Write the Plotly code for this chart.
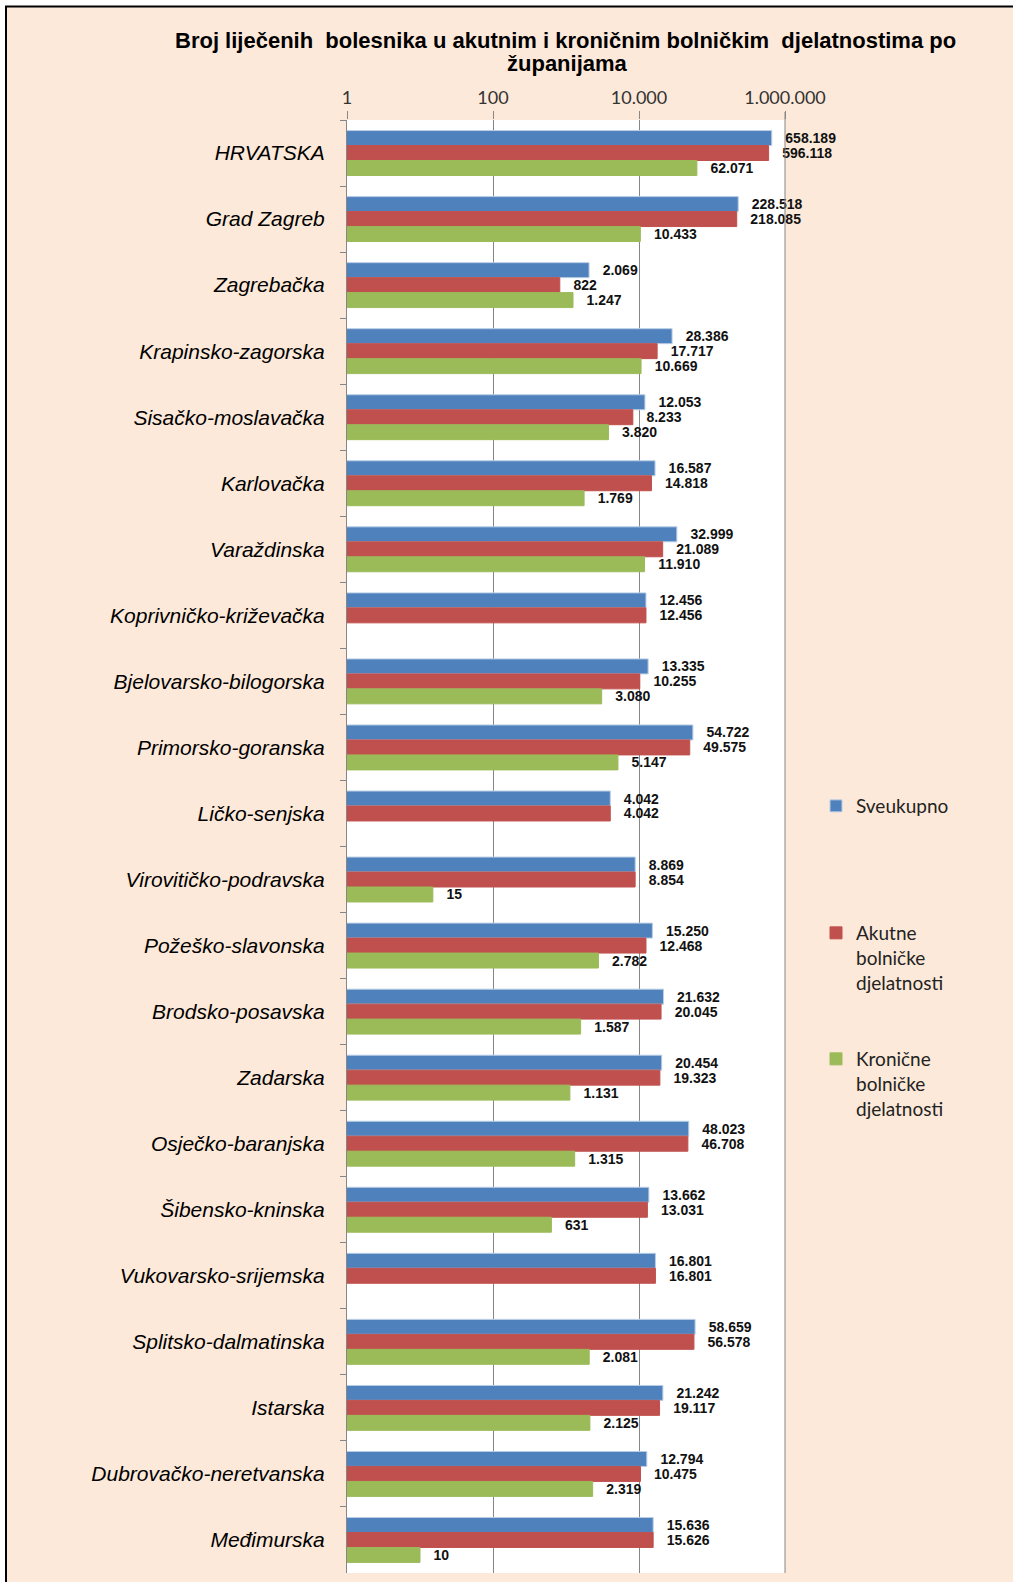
import plotly.graph_objects as go

categories = ["HRVATSKA", "Grad Zagreb", "Zagrebačka", "Krapinsko-zagorska", "Sisačko-moslavačka",
              "Karlovačka", "Varaždinska", "Koprivničko-križevačka", "Bjelovarsko-bilogorska",
              "Primorsko-goranska", "Ličko-senjska", "Virovitičko-podravska", "Požeško-slavonska",
              "Brodsko-posavska", "Zadarska", "Osječko-baranjska", "Šibensko-kninska",
              "Vukovarsko-srijemska", "Splitsko-dalmatinska", "Istarska", "Dubrovačko-neretvanska",
              "Međimurska"]

sveukupno = [658189, 228518, 2069, 28386, 12053, 16587, 32999, 12456, 13335, 54722, 4042,
             8869, 15250, 21632, 20454, 48023, 13662, 16801, 58659, 21242, 12794, 15636]
akutne = [596118, 218085, 822, 17717, 8233, 14818, 21089, 12456, 10255, 49575, 4042,
          8854, 12468, 20045, 19323, 46708, 13031, 16801, 56578, 19117, 10475, 15626]
kronicne = [62071, 10433, 1247, 10669, 3820, 1769, 11910, None, 3080, 5147, None,
            15, 2782, 1587, 1131, 1315, 631, None, 2081, 2125, 2319, 10]

series_names = ["Sveukupno", "Akutne<br>bolničke<br>djelatnosti", "Kronične<br>bolničke<br>djelatnosti"]
tick_vals = [1, 100, 10000, 1000000]
tick_text = ["1", "100", "10.000", "1.000.000"]
title_lines = ["Broj liječenih  bolesnika u akutnim i kroničnim bolničkim  djelatnostima po", "županijama"]

colors = ["#4F81BD", "#C0504D", "#9BBB59"]
outlines = ["#B9CDE5", "#C0504D", "#9BBB59"]

W, H = 1013, 1582
PL, PR, PT, PB = 347, 785, 120, 1573


def px_x(p):
    return (p - PL) / (PR - PL)


def px_y(p):
    return (PB - p) / (PB - PT)


fig = go.Figure()
legends = ["legend", "legend2", "legend3"]
for name, vals, col, oc, lg in zip(series_names, [sveukupno, akutne, kronicne], colors, outlines, legends):
    fig.add_trace(go.Bar(
        y=categories, x=vals, name=name, orientation="h",
        marker=dict(color=col, line=dict(color=oc, width=1)),
        texttemplate="\u00a0\u00a0\u2009%{x:,d}", textposition="outside",
        textfont=dict(family="Liberation Sans, Arial", size=14, color="#111111", weight="bold"),
        constraintext="none", cliponaxis=False, legend=lg, showlegend=True,
    ))

shapes = [
    dict(type="rect", xref="paper", yref="paper", x0=px_x(6), x1=px_x(W + 20),
         y0=px_y(H + 20), y1=px_y(6.5), fillcolor="#FDE9D9",
         line=dict(color="black", width=2), layer="below"),
    dict(type="rect", xref="paper", yref="paper", x0=0, x1=1, y0=0, y1=1,
         fillcolor="white", line=dict(width=0), layer="below"),
    dict(type="line", xref="paper", yref="paper", x0=1, x1=1, y0=0, y1=px_y(112),
         line=dict(color="#868686", width=1), layer="above"),
]

annotations = [
    dict(text=title_lines[0], xref="paper", yref="paper", x=px_x(565), y=px_y(41),
         xanchor="center", yanchor="middle", showarrow=False,
         font=dict(family="Liberation Sans, Arial", size=22, color="black", weight="bold")),
    dict(text=title_lines[1], xref="paper", yref="paper", x=px_x(567), y=px_y(64),
         xanchor="center", yanchor="middle", showarrow=False,
         font=dict(family="Liberation Sans, Arial", size=22, color="black", weight="bold")),
]

legend_common = dict(font=dict(family="Lato", size=19, color="#222222"), bgcolor="rgba(0,0,0,0)",
                     xanchor="left", yanchor="top", valign="top", borderwidth=0)

fig.update_layout(
    width=W, height=H,
    margin=dict(l=PL, r=W - PR, t=PT, b=H - PB, pad=0),
    paper_bgcolor="white", plot_bgcolor="white",
    separators=",.",
    showlegend=True,
    barmode="group", bargap=0.32, bargroupgap=0,
    shapes=shapes, annotations=annotations,
    xaxis=dict(type="log", range=[0, 6], side="top", tickvals=tick_vals, ticktext=tick_text,
               showgrid=True, gridcolor="#868686", gridwidth=1, zeroline=False, showline=False,
               ticks="outside", ticklen=8, tickcolor="#868686",
               tickfont=dict(family="Lato", size=18, color="#333333")),
    yaxis=dict(type="category", autorange="reversed", showgrid=False, showline=True,
               linecolor="#868686", linewidth=1, ticks="outside", ticklen=6, tickcolor="#868686",
               tickson="boundaries", ticklabelstandoff=17,
               tickfont=dict(family="Liberation Sans, Arial", size=21, color="black", style="italic")),
    legend=dict(x=px_x(816), y=px_y(787), **legend_common),
    legend2=dict(x=px_x(816), y=px_y(914), **legend_common),
    legend3=dict(x=px_x(816), y=px_y(1040), **legend_common),
)

fig.write_html("out.html", config={"displayModeBar": False},
               post_script="document.body.style.margin='0';")
